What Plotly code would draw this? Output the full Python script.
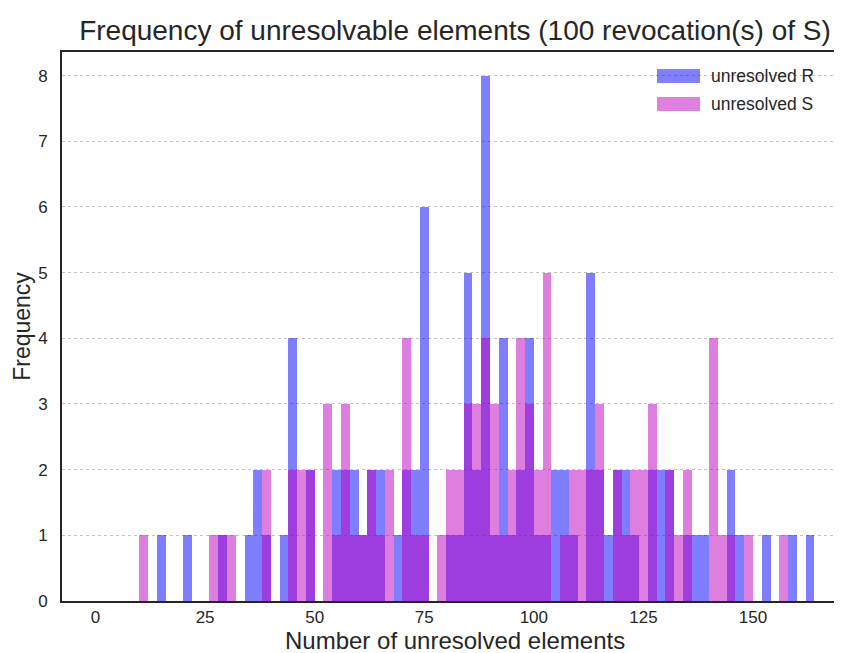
import plotly.graph_objects as go

# Histogram bins: left edges start at BIN_START, each BIN_WIDTH wide
BIN_START = 10
BIN_WIDTH = 2

# counts per bin (bins 10-12, 12-14, ..., 162-164)
unresolved_R = [0, 0, 1, 0, 0, 1, 0, 0, 0, 1,
                0, 0, 1, 2, 1, 0, 1, 4, 0, 2,
                0, 0, 2, 2, 2, 1, 2, 2, 0, 1,
                2, 2, 6, 0, 0, 1, 1, 5, 2, 8,
                1, 4, 1, 2, 4, 1, 1, 2, 2, 1,
                0, 5, 2, 1, 2, 2, 1, 0, 2, 2,
                2, 0, 1, 1, 1, 0, 0, 2, 1, 0,
                0, 1, 0, 0, 1, 0, 1]
unresolved_S = [1, 0, 0, 0, 0, 0, 0, 0, 1, 1,
                1, 0, 0, 0, 2, 0, 0, 2, 2, 2,
                0, 3, 1, 3, 1, 1, 2, 1, 2, 0,
                4, 1, 1, 0, 1, 2, 2, 3, 3, 4,
                3, 1, 2, 4, 3, 2, 5, 0, 1, 2,
                2, 2, 3, 0, 2, 1, 2, 2, 3, 0,
                2, 1, 2, 0, 0, 4, 1, 1, 0, 1,
                0, 0, 0, 1, 0, 0, 0]

series_names = ["unresolved R", "unresolved S"]
x_ticks = [0, 25, 50, 75, 100, 125, 150]
y_ticks = [0, 1, 2, 3, 4, 5, 6, 7, 8]

COL_R = "rgb(0,0,255)"
COL_S = "rgb(191,0,191)"
TXT = "#262626"
FONT = "Liberation Sans, Arial, sans-serif"

def centers(counts):
    return [BIN_START + BIN_WIDTH * (i + 0.5) for i in range(len(counts))]

fig = go.Figure()
fig.add_trace(go.Bar(x=centers(unresolved_R), y=unresolved_R, width=BIN_WIDTH,
                     name=series_names[0], marker=dict(color=COL_R, line=dict(width=0)),
                     opacity=0.5, showlegend=False))
fig.add_trace(go.Bar(x=centers(unresolved_S), y=unresolved_S, width=BIN_WIDTH,
                     name=series_names[1], marker=dict(color=COL_S, line=dict(width=0)),
                     opacity=0.5, showlegend=False))

# page has an 8px body margin, so the figure is drawn 8px smaller
W, H = 834, 645
PL, PT, PB = 54, 44, 52          # plot-area margins
PW, PH = W - PL, H - PT - PB

def px_x(X):   # page pixel -> paper x
    return (X - 8 - PL) / PW

def px_y(Y):   # page pixel -> paper y
    return (H - PB - (Y - 8)) / PH

# legend drawn matplotlib-style (wide patches + labels)
legend_rows = [(series_names[0], COL_R, 76), (series_names[1], COL_S, 104)]
for label, col, yc in legend_rows:
    fig.add_shape(type="rect", xref="paper", yref="paper",
                  x0=px_x(657), x1=px_x(700), y0=px_y(yc + 7), y1=px_y(yc - 7),
                  fillcolor=col, opacity=0.5, line=dict(width=0))
    fig.add_annotation(text=label, xref="paper", yref="paper",
                       x=px_x(709), y=px_y(yc),
                       xanchor="left", yanchor="middle", showarrow=False,
                       font=dict(family=FONT, size=17.5, color=TXT))

# x-axis title
fig.add_annotation(text="Number of unresolved elements", xref="paper", yref="paper",
                   x=px_x(455), y=px_y(640), xanchor="center", yanchor="middle",
                   showarrow=False, font=dict(family=FONT, size=24, color=TXT))

fig.update_layout(
    width=W, height=H,
    barmode="overlay", bargap=0,
    plot_bgcolor="white", paper_bgcolor="white",
    margin=dict(l=PL, r=0, t=PT, b=PB),
    title=dict(text="Frequency of unresolvable elements (100 revocation(s) of S)",
               x=(455 - 8) / W, xanchor="center", y=1 - (30 - 8) / H, yanchor="middle",
               font=dict(family=FONT, size=28, color=TXT)),
    font=dict(family=FONT, color=TXT),
    xaxis=dict(range=[-7.64, 170.3], tickvals=x_ticks, showgrid=False, zeroline=False,
               showline=True, linecolor=TXT, linewidth=1.6, mirror=True,
               ticks="", tickfont=dict(size=17, color=TXT), automargin=False,
               ticklabelstandoff=0),
    yaxis=dict(range=[0, 8.36], tickvals=y_ticks, showgrid=True, gridcolor="#c4c4c4",
               griddash="dot", gridwidth=1, zeroline=False,
               showline=True, linecolor=TXT, linewidth=1.6, mirror=False,
               ticks="", tickfont=dict(size=17, color=TXT), automargin=False,
               ticklabelstandoff=9,
               title=dict(text="Frequency", font=dict(size=23, color=TXT), standoff=1)),
)

fig.write_html("out.html")
